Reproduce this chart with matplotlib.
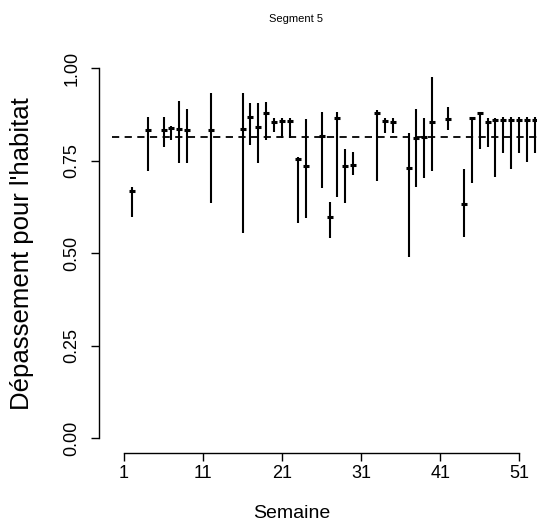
import matplotlib
matplotlib.use("Agg")
import matplotlib.pyplot as plt

# ---- data ----
weeks = [2, 4, 6, 7, 8, 9, 12, 16, 17, 18, 19, 20, 21, 22, 23, 24, 26, 27, 28, 29,
         30, 33, 34, 35, 37, 38, 39, 40, 42, 44, 45, 46, 47, 48, 49, 50, 51, 52, 53]
low = [0.599, 0.723, 0.788, 0.806, 0.743, 0.743, 0.635, 0.554, 0.793, 0.743,
       0.806, 0.829, 0.811, 0.811, 0.581, 0.595, 0.676, 0.541, 0.653, 0.637,
       0.712, 0.696, 0.825, 0.825, 0.490, 0.680, 0.703, 0.723, 0.833, 0.545,
       0.691, 0.781, 0.786, 0.705, 0.770, 0.727, 0.770, 0.748, 0.770]
high = [0.680, 0.869, 0.869, 0.844, 0.912, 0.889, 0.932, 0.932, 0.905, 0.905,
        0.910, 0.865, 0.865, 0.865, 0.761, 0.862, 0.883, 0.639, 0.883, 0.781,
        0.775, 0.887, 0.865, 0.865, 0.824, 0.889, 0.865, 0.977, 0.895, 0.727,
        0.869, 0.883, 0.865, 0.865, 0.869, 0.869, 0.869, 0.869, 0.869]
est = [0.667, 0.833, 0.833, 0.838, 0.835, 0.833, 0.833, 0.835, 0.869, 0.842,
       0.878, 0.856, 0.858, 0.858, 0.754, 0.736, 0.817, 0.599, 0.866, 0.736,
       0.739, 0.878, 0.858, 0.856, 0.730, 0.811, 0.814, 0.856, 0.862, 0.633,
       0.865, 0.878, 0.856, 0.860, 0.860, 0.860, 0.860, 0.860, 0.860]
ref_level = 0.815
x_ticks = [1, 11, 21, 31, 41, 51]
y_ticks = [0.0, 0.25, 0.5, 0.75, 1.0]
y_tick_labels = ["0.00", "0.25", "0.50", "0.75", "1.00"]
title = "Segment 5"
xlabel = "Semaine"
ylabel = "Dépassement pour l'habitat"

plt.rcParams["font.family"] = ["Liberation Sans", "DejaVu Sans"]

W, H = 537, 529
fig = plt.figure(figsize=(W / 100, H / 100), dpi=100)
left_px, right_px, top_px, bottom_px = 99, 537, 53.5, 453
ax = fig.add_axes([left_px / W, (H - bottom_px) / H,
                   (right_px - left_px) / W, (bottom_px - top_px) / H])
ax.set_xlim(-2.163, 53.253)
ax.set_ylim(-0.04, 1.04)

ax.vlines(weeks, low, high, color="black", lw=1.5)
ax.plot(weeks, est, linestyle="none", marker="_", ms=5, mew=2.2, color="black")
ax.plot([-0.5, 54], [ref_level, ref_level], color="black", lw=1.3,
        linestyle=(0, (4, 3)))

for s in ["top", "right"]:
    ax.spines[s].set_visible(False)
ax.spines["bottom"].set_bounds(x_ticks[0], x_ticks[-1])
ax.spines["left"].set_bounds(y_ticks[0], y_ticks[-1])
for s in ["bottom", "left"]:
    ax.spines[s].set_linewidth(1.0)

ax.set_xticks(x_ticks)
ax.set_xticklabels([str(t) for t in x_ticks])
ax.set_yticks(y_ticks)
ax.set_yticklabels(y_tick_labels, rotation=90, va="center")
ax.tick_params(axis="both", length=5.5, width=1.0, direction="out",
               labelsize=13, color="black")
ax.tick_params(axis="y", pad=8)
ax.tick_params(axis="x", pad=3)

ax.set_xlabel(xlabel, fontsize=14)
ax.xaxis.set_label_coords((292 - left_px) / (right_px - left_px),
                          -(505 - bottom_px) / (bottom_px - top_px))
ax.set_ylabel(ylabel, fontsize=18.5)
ax.yaxis.set_label_coords(-(99 - 34) / (right_px - left_px), 0.5)
ax.set_title(title, fontsize=8, x=(296 - left_px) / (right_px - left_px), pad=23)

fig.savefig("out.png", dpi=100)
